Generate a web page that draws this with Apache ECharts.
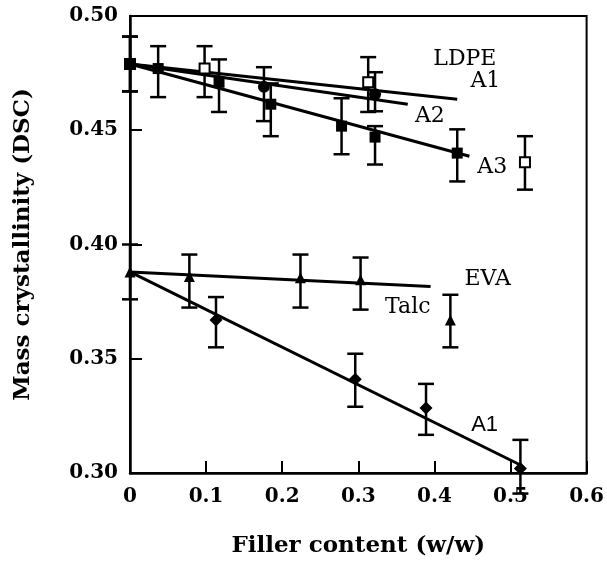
<!DOCTYPE html>
<html>
<head>
<meta charset="utf-8">
<script src="https://cdn.jsdelivr.net/npm/echarts@6/dist/echarts.min.js"></script>
<style>
  html, body { margin: 0; padding: 0; background: #fff; }
  #chart { width: 607px; height: 569px; }
</style>
</head>
<body>
<div id="chart"></div>
<script>
// points: [x, y, errLow, errHigh]
const ldpeA1 = [[0, 0.479, 0.467, 0.491], [0.098, 0.477, 0.4645, 0.4868], [0.313, 0.471, 0.458, 0.482], [0.519, 0.436, 0.424, 0.4474]];
const ldpeA2 = [[0.176, 0.469, 0.454, 0.4776], [0.322, 0.4658, 0.4583, 0.4754]];
const ldpeA3 = [[0, 0.479, 0.467, 0.491], [0.037, 0.477, 0.4645, 0.4868], [0.117, 0.471, 0.458, 0.481], [0.185, 0.4614, 0.4474, 0.4705],
  [0.278, 0.4518, 0.4395, 0.464], [0.322, 0.447, 0.435, 0.4518], [0.43, 0.440, 0.4276, 0.4504]];
const evaTalc = [[0, 0.388, 0.376, 0.400], [0.078, 0.386, 0.3724, 0.3956], [0.224, 0.3855, 0.3724, 0.3956], [0.303, 0.3846, 0.3715, 0.3943], [0.421, 0.367, 0.355, 0.378]];
const evaA1 = [[0.113, 0.367, 0.355, 0.377], [0.296, 0.341, 0.329, 0.3522], [0.389, 0.3285, 0.3167, 0.339], [0.513, 0.302, 0.291, 0.3145]];

// fitted lines: start and end
const fitLdpeA1 = [[0, 0.479], [0.43, 0.4636]];
const fitLdpeA2 = [[0, 0.479], [0.365, 0.4614]];
const fitLdpeA3 = [[0, 0.479], [0.446, 0.4386]];
const fitEvaTalc = [[0, 0.388], [0.395, 0.3816]];
const fitEvaA1 = [[0, 0.388], [0.513, 0.3035]];

// text notes: [x, y, text]
const notesSerif = [[0.44, 0.481, 'LDPE'], [0.467, 0.4715, 'A1'], [0.394, 0.456, 'A2'], [0.476, 0.434, 'A3'], [0.47, 0.3846, 'EVA'], [0.365, 0.3724, 'Talc']];
const notesSans = [[0.466, 0.321, 'A1']];

const serif = '"DejaVu Serif", serif';
const chart = echarts.init(document.getElementById('chart'));

function errBars(data) {
  return {
    type: 'custom',
    clip: false,
    z: 3,
    data: data,
    renderItem: function (params, api) {
      const x = api.value(0);
      const lo = api.coord([x, api.value(2)]);
      const hi = api.coord([x, api.value(3)]);
      const w = 8;
      const st = { stroke: '#000', lineWidth: 2.5 };
      return {
        type: 'group',
        children: [
          { type: 'line', shape: { x1: lo[0], y1: lo[1], x2: hi[0], y2: hi[1] }, style: st },
          { type: 'line', shape: { x1: lo[0] - w, y1: lo[1], x2: lo[0] + w, y2: lo[1] }, style: st },
          { type: 'line', shape: { x1: hi[0] - w, y1: hi[1], x2: hi[0] + w, y2: hi[1] }, style: st }
        ]
      };
    }
  };
}

function marks(data, symbol, size, open) {
  return {
    type: 'scatter',
    clip: false,
    z: 4,
    symbol: symbol,
    symbolSize: size,
    data: data.map(d => [d[0], d[1]]),
    itemStyle: open
      ? { color: '#fff', borderColor: '#000', borderWidth: 2, opacity: 1 }
      : { color: '#000', opacity: 1 }
  };
}

function fit(data) {
  return {
    type: 'line',
    clip: false,
    z: 2,
    symbol: 'none',
    data: data,
    lineStyle: { color: '#000', width: 3 }
  };
}

function notes(data, font) {
  return {
    type: 'scatter',
    clip: false,
    z: 5,
    symbolSize: 0,
    data: data,
    itemStyle: { opacity: 1 },
    label: {
      show: true,
      position: 'inside',
      formatter: p => p.value[2],
      color: '#000',
      fontFamily: font,
      fontSize: 22
    }
  };
}

chart.setOption({
  animation: false,
  grid: { left: 130, right: 17, top: 16, bottom: 96, show: true, borderColor: '#000', borderWidth: 2 },
  xAxis: {
    type: 'value',
    min: 0,
    max: 0.6,
    interval: 0.1,
    name: 'Filler content (w/w)',
    nameLocation: 'middle',
    nameGap: 62,
    nameTextStyle: { fontFamily: serif, fontWeight: 'bold', fontSize: 23, color: '#000' },
    axisLine: { lineStyle: { color: '#000', width: 2.5 } },
    axisTick: { inside: true, length: 12, lineStyle: { color: '#000', width: 2 } },
    axisLabel: {
      margin: 14,
      fontFamily: serif,
      fontWeight: 'bold',
      fontSize: 20,
      color: '#000',
      formatter: v => (v === 0 ? '0' : v.toFixed(1))
    },
    splitLine: { show: false }
  },
  yAxis: {
    type: 'value',
    min: 0.3,
    max: 0.5,
    interval: 0.05,
    name: 'Mass crystallinity (DSC)',
    nameLocation: 'middle',
    nameGap: 95,
    nameTextStyle: { fontFamily: serif, fontWeight: 'bold', fontSize: 23, color: '#000' },
    axisLine: { lineStyle: { color: '#000', width: 2.5 } },
    axisTick: { inside: true, length: 12, lineStyle: { color: '#000', width: 2 } },
    axisLabel: {
      margin: 12,
      fontFamily: serif,
      fontWeight: 'bold',
      fontSize: 20,
      color: '#000',
      formatter: v => v.toFixed(2)
    },
    splitLine: { show: false }
  },
  series: [
    fit(fitLdpeA1), fit(fitLdpeA2), fit(fitLdpeA3), fit(fitEvaTalc), fit(fitEvaA1),
    errBars(ldpeA1), errBars(ldpeA2), errBars(ldpeA3), errBars(evaTalc), errBars(evaA1),
    marks(ldpeA1, 'rect', 10, true),
    marks(ldpeA2, 'circle', 12, false),
    marks(ldpeA3, 'rect', 11, false),
    marks(evaTalc, 'triangle', 11, false),
    marks(evaA1, 'diamond', 13, false),
    notes(notesSerif, '"DejaVu Serif", serif'),
    notes(notesSans, '"Liberation Sans", sans-serif')
  ]
});
</script>
</body>
</html>
